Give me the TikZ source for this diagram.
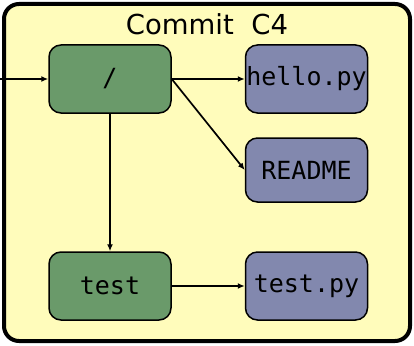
\documentclass[tikz,border=0pt]{standalone}
\usepackage{fontspec}
\setmainfont{DejaVu Sans}
\setmonofont{DejaVu Sans Mono}
\usetikzlibrary{arrows.meta}
\definecolor{bgyellow}{RGB}{255,252,187}
\definecolor{treegreen}{RGB}{106,154,106}
\definecolor{blobblue}{RGB}{130,136,174}
\tikzset{
  treebox/.style={draw=black, line width=1.5pt, fill=treegreen, rounded corners=12pt,
    minimum width=122pt, minimum height=68pt, inner sep=0pt, font=\fontsize{25}{25}\selectfont\ttfamily},
  blobbox/.style={treebox, fill=blobblue},
  link/.style={line width=1.7pt, -{Latex[length=7pt,width=6pt]}}
}
\begin{document}
\begin{tikzpicture}[x=1pt,y=-1pt]
\useasboundingbox (0,0) rectangle (414,345);
\draw[line width=4pt, fill=bgyellow, rounded corners=15pt] (4,4) rectangle (410,341);
\node[font=\fontsize{27.5}{27.5}\selectfont] (title) at (207,24) {Commit\ \ C4};
\node[treebox] (root) at (110,79) {/};
\node[blobbox] (hello) at (306.5,79) {hello.py};
\node[blobbox, minimum height=64pt] (readme) at (306.5,170) {README};
\node[treebox] (test) at (110,286) {test};
\node[blobbox] (testpy) at (306.5,286) {test.py};
\coordinate (in) at (0,79);
\draw[link] (in) -- (root.west);
\draw[link] (root.east) -- (hello.west);
\draw[link] (root.east) -- (readme.west);
\draw[link] (root.south) -- (test.north);
\draw[link] (test.east) -- (testpy.west);
\end{tikzpicture}
\end{document}
